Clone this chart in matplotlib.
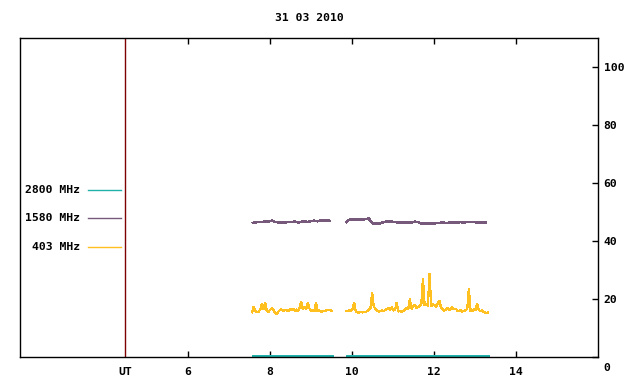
import matplotlib
matplotlib.use("Agg")
import matplotlib.pyplot as plt
from matplotlib.transforms import ScaledTranslation
import numpy as np

title = "31 03 2010"
freq_labels = ["2800 MHz", "1580 MHz", "403 MHz"]
colors = ["#20b2aa", "#775a7b", "#ffc020"]

# 403 MHz, two recording intervals (UT hours)
t403_a = np.arange(50) * 0.04 + 7.56
f403_a = [15.2, 17.3, 15.8, 15.5, 15.6, 16.3, 18.4, 16.5, 18.8, 15.9,
          15.6, 16.2, 16.8, 16.4, 15.3, 14.9, 15.6, 16.2, 16.4, 15.9,
          16.1, 16.3, 15.8, 16.5, 16.2, 16.6, 16.0, 16.3, 15.8, 16.9,
          19.0, 16.4, 17.2, 16.5, 18.6, 16.8, 15.9, 16.2, 15.7, 18.8,
          15.8, 16.1, 15.6, 15.7, 15.9, 16.0, 16.3, 16.2, 16.1, 15.8]
t403_b = np.arange(88) * 0.04 + 9.85
f403_b = [15.8, 15.9, 16.1, 15.9, 16.4, 18.8, 15.8, 15.5, 15.2, 15.6,
          15.4, 15.6, 15.5, 15.8, 16.4, 17.0, 22.2, 17.4, 16.6, 16.0,
          15.7, 15.8, 16.0, 15.8, 16.2, 16.5, 16.8, 16.2, 17.2, 16.0,
          16.4, 18.8, 15.7, 15.9, 15.6, 15.8, 16.3, 16.8, 16.5, 20.0,
          16.6, 17.4, 17.9, 17.0, 17.3, 17.6, 18.2, 27.0, 17.8, 18.3,
          17.6, 28.8, 17.4, 18.3, 17.9, 17.2, 18.4, 19.5, 17.0, 16.4,
          16.0, 16.3, 16.9, 16.2, 16.6, 17.1, 16.4, 16.7, 16.0, 15.8,
          16.3, 15.7, 15.9, 16.2, 16.5, 23.6, 16.0, 15.8, 16.4, 16.1,
          18.4, 16.2, 15.8, 16.0, 15.6, 15.3, 15.2, 15.4]

# 1580 MHz
t1580_a = np.arange(25) * 0.08 + 7.56
f1580_a = [46.2, 46.4, 46.6, 46.5, 46.8, 46.7, 47.0, 46.6, 46.4, 46.5,
           46.3, 46.6, 46.5, 46.7, 46.4, 46.6, 46.8, 46.5, 46.9, 47.0,
           46.8, 47.1, 47.0, 47.1, 46.9]
t1580_b = np.arange(44) * 0.08 + 9.85
f1580_b = [46.4, 47.3, 47.4, 47.3, 47.5, 47.4, 47.6, 47.7, 46.2, 45.9,
           46.0, 46.3, 46.6, 46.8, 46.7, 46.5, 46.4, 46.4, 46.3, 46.4,
           46.3, 46.7, 46.5, 46.1, 46.0, 46.1, 46.0, 46.1, 46.2, 46.3,
           46.3, 46.2, 46.4, 46.3, 46.4, 46.5, 46.4, 46.6, 46.5, 46.6,
           46.4, 46.5, 46.3, 46.4]

# 2800 MHz
t2800_a = [7.56, 9.53]
f2800_a = [0.4, 0.4]
t2800_b = [9.85, 13.34]
f2800_b = [0.4, 0.4]

xticks = [6, 8, 10, 12, 14]
yticks = [0, 20, 40, 60, 80, 100]
ut_pos = 4.46

font = dict(family="DejaVu Sans Mono", weight="bold", size=8.2)
line_kw = dict(antialiased=False, solid_capstyle="butt", solid_joinstyle="miter")

fig = plt.figure(figsize=(6.4, 3.84), dpi=100)
ax = fig.add_axes([20 / 640, 27 / 384, 578 / 640, 319 / 384])

ax.plot(t2800_a, f2800_a, color=colors[0], lw=1.0, **line_kw)
ax.plot(t2800_b, f2800_b, color=colors[0], lw=1.0, **line_kw)
ax.plot(t1580_a, f1580_a, color=colors[1], lw=1.1, **line_kw)
ax.plot(t1580_b, f1580_b, color=colors[1], lw=1.1, **line_kw)
ax.plot(t403_a, f403_a, color=colors[2], lw=0.9, **line_kw)
ax.plot(t403_b, f403_b, color=colors[2], lw=0.9, **line_kw)

ax.axvline(ut_pos, color="#800000", lw=1)

ax.set_xlim(1.9, 16.0)
ax.set_ylim(0, 110)

ax.set_xticks(xticks)
ax.set_xticklabels([str(v) for v in xticks], **font)
ax.tick_params(axis="x", direction="in", top=True, length=4, width=1, pad=7)
ax.yaxis.tick_right()
ax.set_yticks(yticks)
ax.set_yticklabels([str(v) for v in yticks], **font)
ax.tick_params(axis="y", direction="in", left=False, right=True, length=4, width=1, pad=4)
for s in ax.spines.values():
    s.set_linewidth(1)

# gnuplot puts the "0" label a bit below the axis
lab0 = ax.get_yticklabels()[0]
lab0.set_transform(lab0.get_transform() + ScaledTranslation(0, -0.1, fig.dpi_scale_trans))

ax.text(ut_pos, -0.048, "UT", transform=ax.get_xaxis_transform(),
        ha="center", va="center", **font)

# legend on the left
leg_y = [57.5, 47.8, 37.8]
for lab, c, y in zip(freq_labels, colors, leg_y):
    ax.text(3.37, y, lab, ha="right", va="center", **font)
    ax.plot([3.56, 4.37], [y, y], color=c, lw=1)

fig.text(309 / 640, 1 - 18 / 384, title, ha="center", va="center", **font)

fig.savefig("out.png", dpi=100)
